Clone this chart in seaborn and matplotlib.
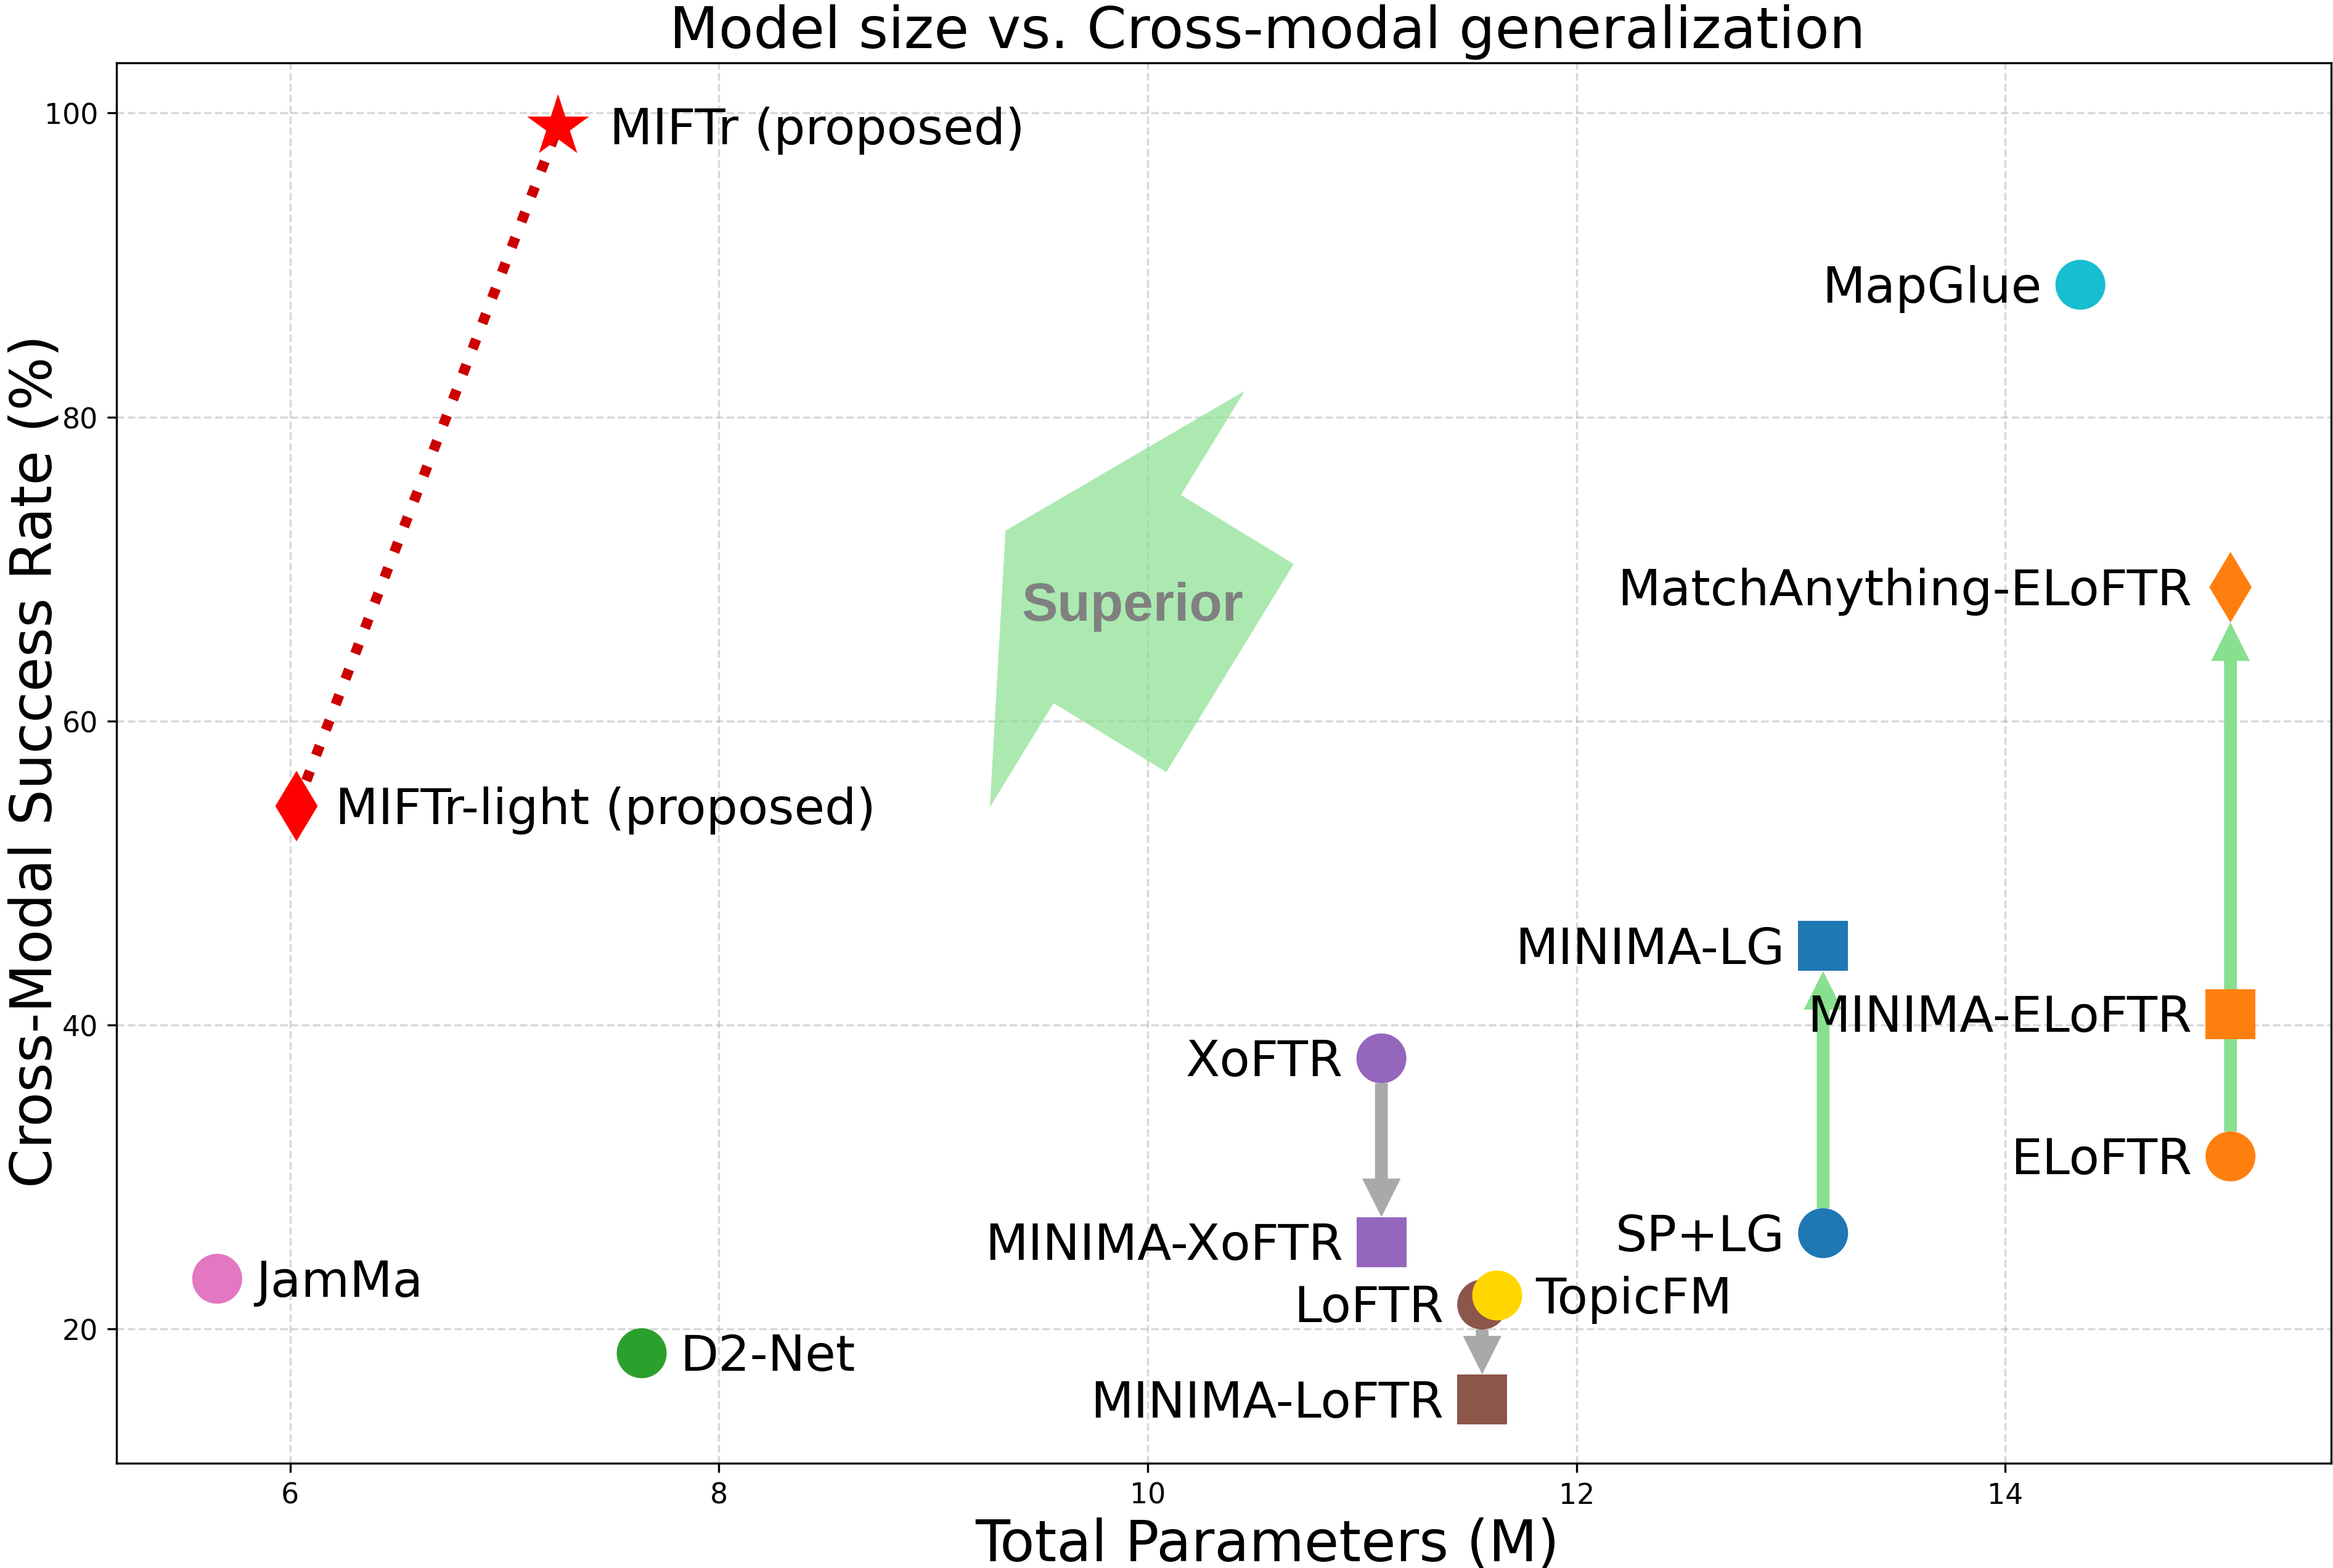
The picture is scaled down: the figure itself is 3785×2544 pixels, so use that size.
import matplotlib
matplotlib.use("Agg")
import matplotlib.pyplot as plt
import pandas as pd
import seaborn as sns

# ---------------- data ----------------
names = ["MIFTr (proposed)", "MIFTr-light (proposed)", "JamMa", "D2-Net",
         "XoFTR", "MINIMA-XoFTR", "LoFTR", "TopicFM", "MINIMA-LoFTR",
         "SP+LG", "MINIMA-LG", "ELoFTR", "MINIMA-ELoFTR",
         "MatchAnything-ELoFTR", "MapGlue"]
params = [7.25, 6.03, 5.66, 7.64,
          11.09, 11.09, 11.56, 11.63, 11.56,
          13.15, 13.15, 15.05, 15.05,
          15.05, 14.35]
success = [99.1, 54.4, 23.3, 18.4,
           37.8, 25.7, 21.6, 22.2, 15.35,
           26.3, 45.2, 31.35, 40.7,
           68.8, 88.7]
colors = ["#ff0000", "#ff0000", "#e377c2", "#2ca02c",
          "#9467bd", "#9467bd", "#8c564b", "#ffd700", "#8c564b",
          "#1f77b4", "#1f77b4", "#ff7f0e", "#ff7f0e",
          "#ff7f0e", "#17becf"]
markers = ["*", "d", "o", "o",
           "o", "s", "o", "o", "s",
           "o", "s", "o", "s",
           "d", "o"]
label_side = ["right", "right", "right", "right",
              "left", "left", "left", "right", "left",
              "left", "left", "left", "left",
              "left", "left"]
label_offset_pt = [20, 15, 15, 15,
                   15, 15, 15, 15, 15,
                   15, 15, 15, 15,
                   15, 15]

arrow_from = ["XoFTR", "LoFTR", "SP+LG", "ELoFTR"]
arrow_to = ["MINIMA-XoFTR", "MINIMA-LoFTR", "MINIMA-LG", "MatchAnything-ELoFTR"]
arrow_colors = ["darkgray", "darkgray", "#88e08f", "#88e08f"]
arrow_shrinkA = [9.7, 9.7, 9.7, 9.7]
arrow_shrinkB = [9.8, 9.8, 9.8, 13.7]

proposed_pair = ["MIFTr-light (proposed)", "MIFTr (proposed)"]

superior_tip = (9.337, 72.52)
superior_tail = (10.384, 63.48)
superior_text_pos = (9.93, 66.64)

x_ticks = [6, 8, 10, 12, 14]
y_ticks = [20, 40, 60, 80, 100]

# ---------------- figure ----------------
W, H, DPI = 3786, 2545, 300
fig = plt.figure(figsize=(W / DPI, H / DPI), dpi=DPI)
ax = fig.add_axes([189 / W, 1 - 2375 / H, (3782 - 189) / W, (2375 - 103.3) / H])

df = pd.DataFrame({"name": names, "params": params, "success": success})
idx = {n: i for i, n in enumerate(names)}
sizes = {n: (645 if m == "*" else 378) for n, m in zip(names, markers)}

sns.scatterplot(data=df, x="params", y="success", hue="name",
                palette=dict(zip(names, colors)), style="name",
                markers=dict(zip(names, markers)), size="name", sizes=sizes,
                legend=False, linewidth=0, ax=ax, zorder=3)

# dotted line between proposed models
pi = [idx[n] for n in proposed_pair]
ax.plot([params[i] for i in pi], [success[i] for i in pi],
        linestyle=":", linewidth=4, color="#cc0000", zorder=2)

# improvement arrows
for a, b, c, sa, sb in zip(arrow_from, arrow_to, arrow_colors, arrow_shrinkA, arrow_shrinkB):
    ax.annotate("", xy=(params[idx[b]], success[idx[b]]),
                xytext=(params[idx[a]], success[idx[a]]),
                arrowprops=dict(arrowstyle="simple,head_length=15,head_width=15,tail_width=5",
                                mutation_scale=1, color=c, lw=0,
                                shrinkA=sa, shrinkB=sb),
                zorder=2)

# big "Superior" arrow
ax.annotate("", xy=superior_tip, xytext=superior_tail,
            arrowprops=dict(arrowstyle="simple,head_length=51,head_width=190,tail_width=95",
                            mutation_scale=1, color="#88e08f", alpha=0.7, lw=0,
                            shrinkA=0, shrinkB=0),
            zorder=1.6)
ax.text(superior_text_pos[0], superior_text_pos[1], "Superior", fontsize=21,
        fontweight="bold", color="gray", ha="center", va="baseline",
        family=["Liberation Sans", "DejaVu Sans"], zorder=4)

# point labels
for n, x, y, side, off in zip(names, params, success, label_side, label_offset_pt):
    dx = off if side == "right" else -off
    ax.annotate(n, (x, y), xytext=(dx, -1.4), textcoords="offset points",
                ha="left" if side == "right" else "right", va="center",
                fontsize=19.4, zorder=4)

ax.set_xticks(x_ticks)
ax.set_yticks(y_ticks)
ax.tick_params(labelsize=11, length=3.7)
ax.grid(True, linestyle="--", alpha=0.5)

ax.set_title("Model size vs. Cross-modal generalization", fontsize=22.2, x=0.5196)
ax.set_xlabel("Total Parameters (M)", fontsize=22)
ax.xaxis.set_label_coords(0.5196, -0.038)
ax.set_ylabel("Cross-Modal Success Rate (%)", fontsize=22)
ax.yaxis.set_label_coords(-0.0242, 0.5018)

fig.savefig("out.png", dpi=DPI)
